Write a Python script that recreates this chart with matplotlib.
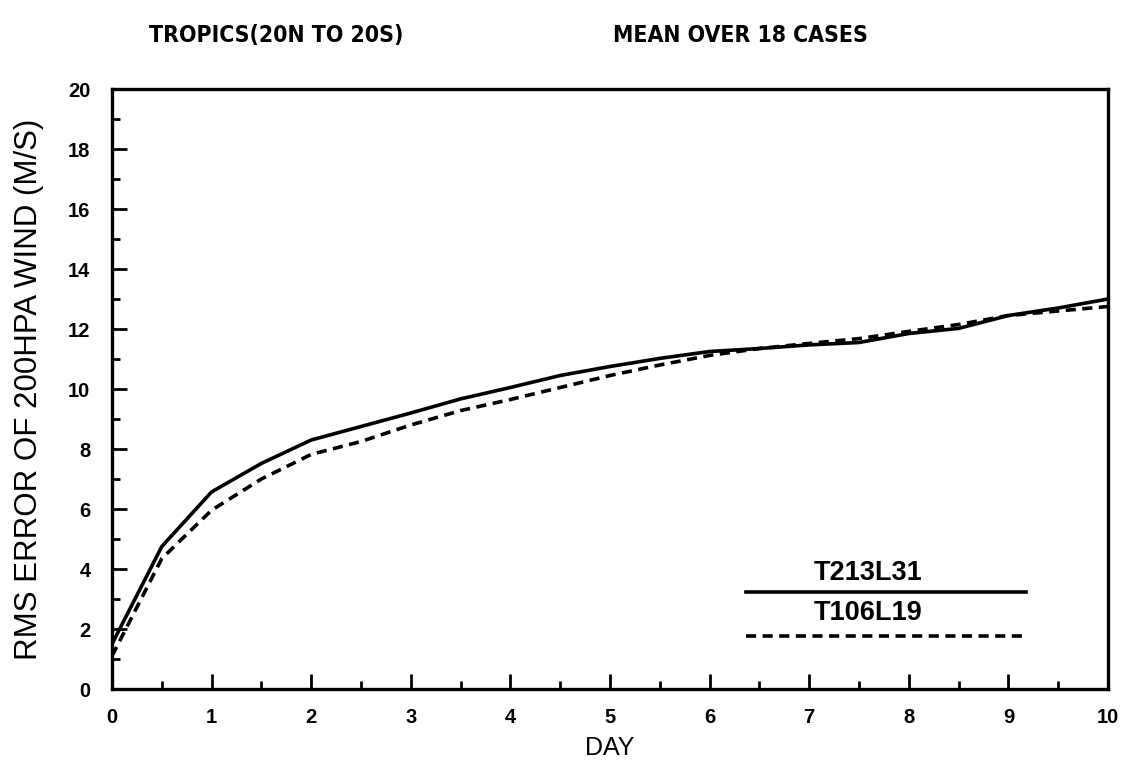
import matplotlib
matplotlib.use("Agg")
import matplotlib.pyplot as plt
from matplotlib.lines import Line2D
from matplotlib.ticker import MultipleLocator

days = [0, 0.5, 1, 1.5, 2, 2.5, 3, 3.5, 4, 4.5, 5, 5.5, 6, 6.5, 7, 7.5, 8, 8.5, 9, 9.5, 10]
t213l31 = [1.5, 4.75, 6.57, 7.52, 8.3, 8.75, 9.2, 9.67, 10.05, 10.45, 10.75, 11.02,
           11.25, 11.35, 11.47, 11.55, 11.85, 12.02, 12.45, 12.7, 13.0]
t106l19 = [1.1, 4.35, 5.96, 7.0, 7.82, 8.25, 8.8, 9.28, 9.65, 10.05, 10.45, 10.8,
           11.12, 11.35, 11.52, 11.68, 11.92, 12.15, 12.45, 12.6, 12.75]
series_names = ["T213L31", "T106L19"]
xticks = list(range(0, 11))
yticks = list(range(0, 21, 2))

FONT = ["Liberation Sans", "DejaVu Sans"]
DASH = (0, (2.8, 1.8))

fig = plt.figure(figsize=(11.29, 7.62), dpi=100)
ax = fig.add_axes([0.0992, 0.0958, 0.8822, 0.7874])

ax.plot(days, t213l31, color="black", lw=2.6, solid_joinstyle="round")
ax.plot(days, t106l19, color="black", lw=2.6, linestyle=DASH)

ax.set_xlim(0, 10)
ax.set_ylim(0, 20)
ax.set_xticks(xticks)
ax.set_yticks(yticks)
ax.xaxis.set_minor_locator(MultipleLocator(0.5))
ax.yaxis.set_minor_locator(MultipleLocator(1))
ax.tick_params(which="both", direction="in", top=False, right=False, width=2)
ax.tick_params(which="major", length=11)
ax.tick_params(which="minor", length=6)
ax.tick_params(axis="x", which="major", pad=14)
ax.tick_params(axis="y", which="major", pad=15.5)
for s in ax.spines.values():
    s.set_linewidth(2.4)

for lab in ax.get_xticklabels() + ax.get_yticklabels():
    lab.set_fontfamily(FONT)
    lab.set_fontweight("bold")
    lab.set_fontsize(14.5)

ax.set_xlabel("DAY", fontsize=18, family=FONT, labelpad=6)
ax.set_ylabel("RMS ERROR OF 200HPA WIND (M/S)", fontsize=22.5, family=FONT)
ax.yaxis.label.set_va("center")
ax.yaxis.set_label_coords(-0.0838, 0.5)

fig.text(0.132, 0.953, "TROPICS(20N TO 20S)", fontsize=16.5, family="DejaVu Sans",
         stretch="condensed", fontweight="bold", ha="left", va="center")
fig.text(0.543, 0.953, "MEAN OVER 18 CASES", fontsize=16.5, family="DejaVu Sans",
         stretch="condensed", fontweight="bold", ha="left", va="center")

# legend drawn as in the original (label above its line sample)
ax.add_line(Line2D([0.637, 0.918], [0.162, 0.162], transform=ax.transAxes,
                   color="black", lw=2.6))
ax.add_line(Line2D([0.637, 0.918], [0.088, 0.088], transform=ax.transAxes,
                   color="black", lw=2.6, linestyle=DASH))
ax.text(0.759, 0.193, series_names[0], transform=ax.transAxes, ha="center",
        va="center", fontsize=19.5, family=FONT, fontweight="bold")
ax.text(0.759, 0.127, series_names[1], transform=ax.transAxes, ha="center",
        va="center", fontsize=19.5, family=FONT, fontweight="bold")

fig.savefig("out.png", dpi=100)
